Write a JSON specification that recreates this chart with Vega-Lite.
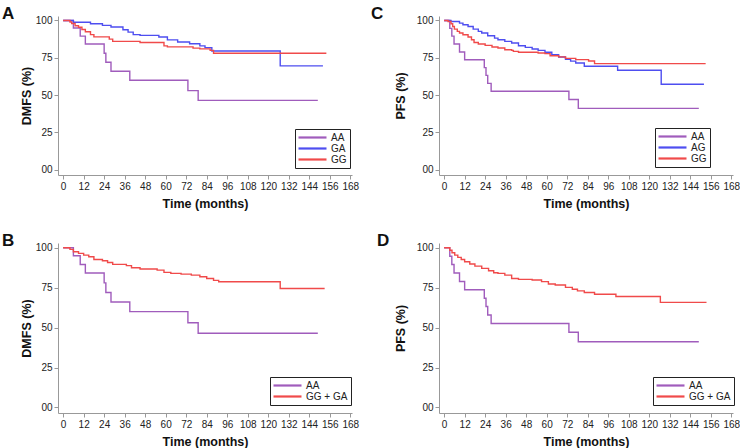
{
  "$schema": "https://vega.github.io/schema/vega-lite/v6.json",
  "padding": {"left": 2, "top": 4, "right": 0, "bottom": 0},
  "background": "white",
  "config": {
    "view": {"stroke": null},
    "font": "Liberation Sans",
    "axis": {
      "grid": false, "domainColor": "#999999", "tickColor": "#999999", "tickSize": 4,
      "labelColor": "#222222", "labelFontSize": 10, "labelFont": "Liberation Sans",
      "titleFont": "Liberation Sans", "titleFontSize": 12.5, "titleFontWeight": "bold", "titleColor": "#111111",
      "labelPadding": 2, "labelFlush": false, "labelOverlap": false
    },
    "legend": {
      "strokeColor": "#222222", "fillColor": "white", "padding": 3, "rowPadding": -1,
      "symbolType": "M-3.5,0H3.5", "symbolSize": 64, "symbolOffset": 9, "symbolStrokeWidth": 2.2, "labelFontSize": 10,
      "labelFont": "Liberation Sans", "labelColor": "#222222", "labelOffset": 13, "cornerRadius": 0
    },
    "title": {"anchor": "start", "frame": "group", "fontSize": 17, "fontWeight": "bold", "font": "Liberation Sans", "color": "#111111"}
  },
  "datasets": {
    "A": [
      {"g": "AA", "t": 0, "s": 100}, {"g": "AA", "t": 6, "s": 95}, {"g": "AA", "t": 10, "s": 89.5}, {"g": "AA", "t": 13, "s": 84.2},
      {"g": "AA", "t": 24, "s": 78}, {"g": "AA", "t": 25, "s": 72}, {"g": "AA", "t": 28, "s": 66}, {"g": "AA", "t": 39, "s": 60},
      {"g": "AA", "t": 73, "s": 53}, {"g": "AA", "t": 79, "s": 46.5}, {"g": "AA", "t": 149, "s": 46.5},
      {"g": "GA", "t": 0, "s": 100}, {"g": "GA", "t": 6, "s": 98.8}, {"g": "GA", "t": 16, "s": 97.8}, {"g": "GA", "t": 23, "s": 96.7},
      {"g": "GA", "t": 28, "s": 95.6}, {"g": "GA", "t": 35, "s": 93.8}, {"g": "GA", "t": 38, "s": 92.2}, {"g": "GA", "t": 41, "s": 90.5},
      {"g": "GA", "t": 45, "s": 90}, {"g": "GA", "t": 56, "s": 88.9}, {"g": "GA", "t": 61, "s": 87}, {"g": "GA", "t": 67, "s": 85.6},
      {"g": "GA", "t": 74, "s": 84.4}, {"g": "GA", "t": 80, "s": 83}, {"g": "GA", "t": 83, "s": 81.8}, {"g": "GA", "t": 87, "s": 79.6},
      {"g": "GA", "t": 127, "s": 69.6}, {"g": "GA", "t": 152, "s": 69.6},
      {"g": "GG", "t": 0, "s": 100}, {"g": "GG", "t": 4, "s": 99}, {"g": "GG", "t": 5, "s": 98}, {"g": "GG", "t": 7, "s": 96.5},
      {"g": "GG", "t": 9, "s": 95.5}, {"g": "GG", "t": 11, "s": 94}, {"g": "GG", "t": 13, "s": 92.5}, {"g": "GG", "t": 16, "s": 90.5},
      {"g": "GG", "t": 18, "s": 89}, {"g": "GG", "t": 27, "s": 87.5}, {"g": "GG", "t": 29, "s": 86}, {"g": "GG", "t": 45, "s": 85.3},
      {"g": "GG", "t": 59, "s": 83}, {"g": "GG", "t": 61, "s": 82.3}, {"g": "GG", "t": 76, "s": 81.5}, {"g": "GG", "t": 80, "s": 81},
      {"g": "GG", "t": 86, "s": 80}, {"g": "GG", "t": 88, "s": 78}, {"g": "GG", "t": 154, "s": 78}
    ],
    "B": [
      {"g": "AA", "t": 0, "s": 100}, {"g": "AA", "t": 6, "s": 95}, {"g": "AA", "t": 10, "s": 89.5}, {"g": "AA", "t": 13, "s": 84.2},
      {"g": "AA", "t": 24, "s": 78}, {"g": "AA", "t": 25, "s": 72}, {"g": "AA", "t": 28, "s": 66}, {"g": "AA", "t": 39, "s": 60},
      {"g": "AA", "t": 73, "s": 53}, {"g": "AA", "t": 79, "s": 46.5}, {"g": "AA", "t": 149, "s": 46.5},
      {"g": "GG + GA", "t": 0, "s": 100}, {"g": "GG + GA", "t": 4, "s": 99}, {"g": "GG + GA", "t": 6, "s": 97.5}, {"g": "GG + GA", "t": 9, "s": 96.5},
      {"g": "GG + GA", "t": 12, "s": 95.4}, {"g": "GG + GA", "t": 15, "s": 94.4}, {"g": "GG + GA", "t": 18, "s": 92.7}, {"g": "GG + GA", "t": 23, "s": 91.9},
      {"g": "GG + GA", "t": 26, "s": 90.8}, {"g": "GG + GA", "t": 29, "s": 89.6}, {"g": "GG + GA", "t": 37, "s": 88.8}, {"g": "GG + GA", "t": 40, "s": 87.5},
      {"g": "GG + GA", "t": 45, "s": 86.7}, {"g": "GG + GA", "t": 55, "s": 86}, {"g": "GG + GA", "t": 59, "s": 84.6}, {"g": "GG + GA", "t": 63, "s": 84},
      {"g": "GG + GA", "t": 69, "s": 83.5}, {"g": "GG + GA", "t": 75, "s": 82.9}, {"g": "GG + GA", "t": 80, "s": 81.9}, {"g": "GG + GA", "t": 84, "s": 80.8},
      {"g": "GG + GA", "t": 88, "s": 79.6}, {"g": "GG + GA", "t": 91, "s": 78.7}, {"g": "GG + GA", "t": 127, "s": 74.5}, {"g": "GG + GA", "t": 153, "s": 74.5}
    ],
    "C": [
      {"g": "AA", "t": 0, "s": 100}, {"g": "AA", "t": 3.3, "s": 94.7}, {"g": "AA", "t": 4.5, "s": 89.5}, {"g": "AA", "t": 5.8, "s": 84.2},
      {"g": "AA", "t": 9, "s": 78.9}, {"g": "AA", "t": 12, "s": 73.7}, {"g": "AA", "t": 23.5, "s": 68.4}, {"g": "AA", "t": 24.5, "s": 63.2},
      {"g": "AA", "t": 25.5, "s": 57.9}, {"g": "AA", "t": 27.5, "s": 52.6}, {"g": "AA", "t": 73, "s": 47.1}, {"g": "AA", "t": 78.5, "s": 41.1},
      {"g": "AA", "t": 149, "s": 41.1},
      {"g": "AG", "t": 0, "s": 100}, {"g": "AG", "t": 4, "s": 99.3}, {"g": "AG", "t": 9, "s": 98.2}, {"g": "AG", "t": 11, "s": 97.1},
      {"g": "AG", "t": 14, "s": 96}, {"g": "AG", "t": 17, "s": 94.2}, {"g": "AG", "t": 20, "s": 92.7}, {"g": "AG", "t": 22, "s": 91.6},
      {"g": "AG", "t": 25.5, "s": 89.8}, {"g": "AG", "t": 29.5, "s": 88.2}, {"g": "AG", "t": 31.5, "s": 87.1}, {"g": "AG", "t": 35.5, "s": 86},
      {"g": "AG", "t": 39.5, "s": 84.9}, {"g": "AG", "t": 43.5, "s": 83.1}, {"g": "AG", "t": 47.5, "s": 82}, {"g": "AG", "t": 51.5, "s": 80.9},
      {"g": "AG", "t": 55, "s": 80}, {"g": "AG", "t": 59, "s": 78.7}, {"g": "AG", "t": 63, "s": 77}, {"g": "AG", "t": 67, "s": 75.5},
      {"g": "AG", "t": 71, "s": 74}, {"g": "AG", "t": 74, "s": 72.8}, {"g": "AG", "t": 77, "s": 71.5}, {"g": "AG", "t": 82, "s": 69.3},
      {"g": "AG", "t": 101.5, "s": 66.7}, {"g": "AG", "t": 127, "s": 57.3}, {"g": "AG", "t": 152, "s": 57.3},
      {"g": "GG", "t": 0, "s": 100}, {"g": "GG", "t": 2.3, "s": 99.3}, {"g": "GG", "t": 4, "s": 97.8}, {"g": "GG", "t": 5, "s": 96},
      {"g": "GG", "t": 6, "s": 94.2}, {"g": "GG", "t": 7.7, "s": 92.7}, {"g": "GG", "t": 9, "s": 91.6}, {"g": "GG", "t": 11, "s": 90.4},
      {"g": "GG", "t": 14, "s": 88.9}, {"g": "GG", "t": 16, "s": 87.1}, {"g": "GG", "t": 17.5, "s": 85.3}, {"g": "GG", "t": 20, "s": 84.2},
      {"g": "GG", "t": 24, "s": 83.3}, {"g": "GG", "t": 28, "s": 82.2}, {"g": "GG", "t": 31.5, "s": 81.6}, {"g": "GG", "t": 35.5, "s": 80.4},
      {"g": "GG", "t": 39.5, "s": 80}, {"g": "GG", "t": 40.5, "s": 79.3}, {"g": "GG", "t": 43.5, "s": 78.7}, {"g": "GG", "t": 55, "s": 78.2},
      {"g": "GG", "t": 59, "s": 77.8}, {"g": "GG", "t": 62, "s": 76.4}, {"g": "GG", "t": 67, "s": 75.6}, {"g": "GG", "t": 71, "s": 74.6},
      {"g": "GG", "t": 77, "s": 73.8}, {"g": "GG", "t": 84.5, "s": 72.9}, {"g": "GG", "t": 88, "s": 71.1}, {"g": "GG", "t": 153, "s": 71.1}
    ],
    "D": [
      {"g": "AA", "t": 0, "s": 100}, {"g": "AA", "t": 3.3, "s": 94.7}, {"g": "AA", "t": 4.5, "s": 89.5}, {"g": "AA", "t": 5.8, "s": 84.2},
      {"g": "AA", "t": 9, "s": 78.9}, {"g": "AA", "t": 12, "s": 73.7}, {"g": "AA", "t": 23.5, "s": 68.4}, {"g": "AA", "t": 24.5, "s": 63.2},
      {"g": "AA", "t": 25.5, "s": 57.9}, {"g": "AA", "t": 27.5, "s": 52.6}, {"g": "AA", "t": 73, "s": 47.1}, {"g": "AA", "t": 78.5, "s": 41.1},
      {"g": "AA", "t": 149, "s": 41.1},
      {"g": "GG + GA", "t": 0, "s": 100}, {"g": "GG + GA", "t": 3.3, "s": 98.5}, {"g": "GG + GA", "t": 4.6, "s": 96.9}, {"g": "GG + GA", "t": 6.2, "s": 95.4},
      {"g": "GG + GA", "t": 8, "s": 94}, {"g": "GG + GA", "t": 10, "s": 92.7}, {"g": "GG + GA", "t": 12, "s": 91.3}, {"g": "GG + GA", "t": 15, "s": 89.8},
      {"g": "GG + GA", "t": 18, "s": 88.5}, {"g": "GG + GA", "t": 22, "s": 87.1}, {"g": "GG + GA", "t": 26, "s": 85.6}, {"g": "GG + GA", "t": 29, "s": 84.4},
      {"g": "GG + GA", "t": 31.5, "s": 84}, {"g": "GG + GA", "t": 35.5, "s": 82.9}, {"g": "GG + GA", "t": 39.5, "s": 80.8}, {"g": "GG + GA", "t": 43.5, "s": 80.2},
      {"g": "GG + GA", "t": 51.5, "s": 79.8}, {"g": "GG + GA", "t": 57, "s": 78.8}, {"g": "GG + GA", "t": 61, "s": 77.3}, {"g": "GG + GA", "t": 65, "s": 76.7},
      {"g": "GG + GA", "t": 71, "s": 75.2}, {"g": "GG + GA", "t": 75, "s": 74}, {"g": "GG + GA", "t": 78, "s": 73}, {"g": "GG + GA", "t": 82, "s": 72},
      {"g": "GG + GA", "t": 88, "s": 70.9}, {"g": "GG + GA", "t": 100.5, "s": 69.5}, {"g": "GG + GA", "t": 126.5, "s": 65.8}, {"g": "GG + GA", "t": 153.5, "s": 65.8}
    ]
  },
  "columns": 2,
  "spacing": {"row": 22, "column": 12},
  "resolve": {"scale": {"color": "independent"}, "legend": {"color": "independent"}},
  "concat": [
    {
      "width": 294, "height": 159,
      "title": {"text": "A", "dx": -56, "offset": -7.5},
      "data": {"name": "A"},
      "mark": {"type": "line", "interpolate": "step-after", "strokeWidth": 1.4},
      "encoding": {
        "x": {"field": "t", "type": "quantitative", "scale": {"domain": [-3, 169], "nice": false, "zero": false},
              "axis": {"values": [0,12,24,36,48,60,72,84,96,108,120,132,144,156,168], "title": "Time (months)", "titlePadding": 6}},
        "y": {"field": "s", "type": "quantitative", "scale": {"domain": [-3.5, 103], "nice": false, "zero": false},
              "axis": {"values": [0,25,50,75,100], "labelExpr": "datum.value == 0 ? '00' : datum.label", "title": "DMFS (%)", "titlePadding": 2}},
        "color": {"field": "g", "type": "nominal",
                  "scale": {"domain": ["AA","GA","GG"], "range": ["#a05cbc","#4e4ef0","#f04a4a"]},
                  "legend": {"title": null, "orient": "none", "legendX": 237, "legendY": 113}}
      }
    },
    {
      "width": 294, "height": 159,
      "title": {"text": "C", "dx": -68, "offset": -7.5},
      "data": {"name": "C"},
      "mark": {"type": "line", "interpolate": "step-after", "strokeWidth": 1.4},
      "encoding": {
        "x": {"field": "t", "type": "quantitative", "scale": {"domain": [-3, 169], "nice": false, "zero": false},
              "axis": {"values": [0,12,24,36,48,60,72,84,96,108,120,132,144,156,168], "title": "Time (months)", "titlePadding": 6}},
        "y": {"field": "s", "type": "quantitative", "scale": {"domain": [-3.5, 103], "nice": false, "zero": false},
              "axis": {"values": [0,25,50,75,100], "labelExpr": "datum.value == 0 ? '00' : datum.label", "title": "PFS (%)", "titlePadding": 9}},
        "color": {"field": "g", "type": "nominal",
                  "scale": {"domain": ["AA","AG","GG"], "range": ["#a05cbc","#4e4ef0","#f04a4a"]},
                  "legend": {"title": null, "orient": "none", "legendX": 216, "legendY": 112}}
      }
    },
    {
      "width": 294, "height": 170,
      "title": {"text": "B", "dx": -56, "offset": -7.5},
      "data": {"name": "B"},
      "mark": {"type": "line", "interpolate": "step-after", "strokeWidth": 1.4},
      "encoding": {
        "x": {"field": "t", "type": "quantitative", "scale": {"domain": [-3, 169], "nice": false, "zero": false},
              "axis": {"values": [0,12,24,36,48,60,72,84,96,108,120,132,144,156,168], "title": "Time (months)", "titlePadding": 6}},
        "y": {"field": "s", "type": "quantitative", "scale": {"domain": [-3.5, 103], "nice": false, "zero": false},
              "axis": {"values": [0,25,50,75,100], "labelExpr": "datum.value == 0 ? '00' : datum.label", "title": "DMFS (%)", "titlePadding": 2}},
        "color": {"field": "g", "type": "nominal",
                  "scale": {"domain": ["AA","GG + GA"], "range": ["#a05cbc","#f04a4a"]},
                  "legend": {"title": null, "orient": "none", "legendX": 212, "legendY": 134}}
      }
    },
    {
      "width": 294, "height": 170,
      "title": {"text": "D", "dx": -62, "offset": -7.5},
      "data": {"name": "D"},
      "mark": {"type": "line", "interpolate": "step-after", "strokeWidth": 1.4},
      "encoding": {
        "x": {"field": "t", "type": "quantitative", "scale": {"domain": [-3, 169], "nice": false, "zero": false},
              "axis": {"values": [0,12,24,36,48,60,72,84,96,108,120,132,144,156,168], "title": "Time (months)", "titlePadding": 6}},
        "y": {"field": "s", "type": "quantitative", "scale": {"domain": [-3.5, 103], "nice": false, "zero": false},
              "axis": {"values": [0,25,50,75,100], "labelExpr": "datum.value == 0 ? '00' : datum.label", "title": "PFS (%)", "titlePadding": 9}},
        "color": {"field": "g", "type": "nominal",
                  "scale": {"domain": ["AA","GG + GA"], "range": ["#a05cbc","#f04a4a"]},
                  "legend": {"title": null, "orient": "none", "legendX": 214, "legendY": 134}}
      }
    }
  ]
}
